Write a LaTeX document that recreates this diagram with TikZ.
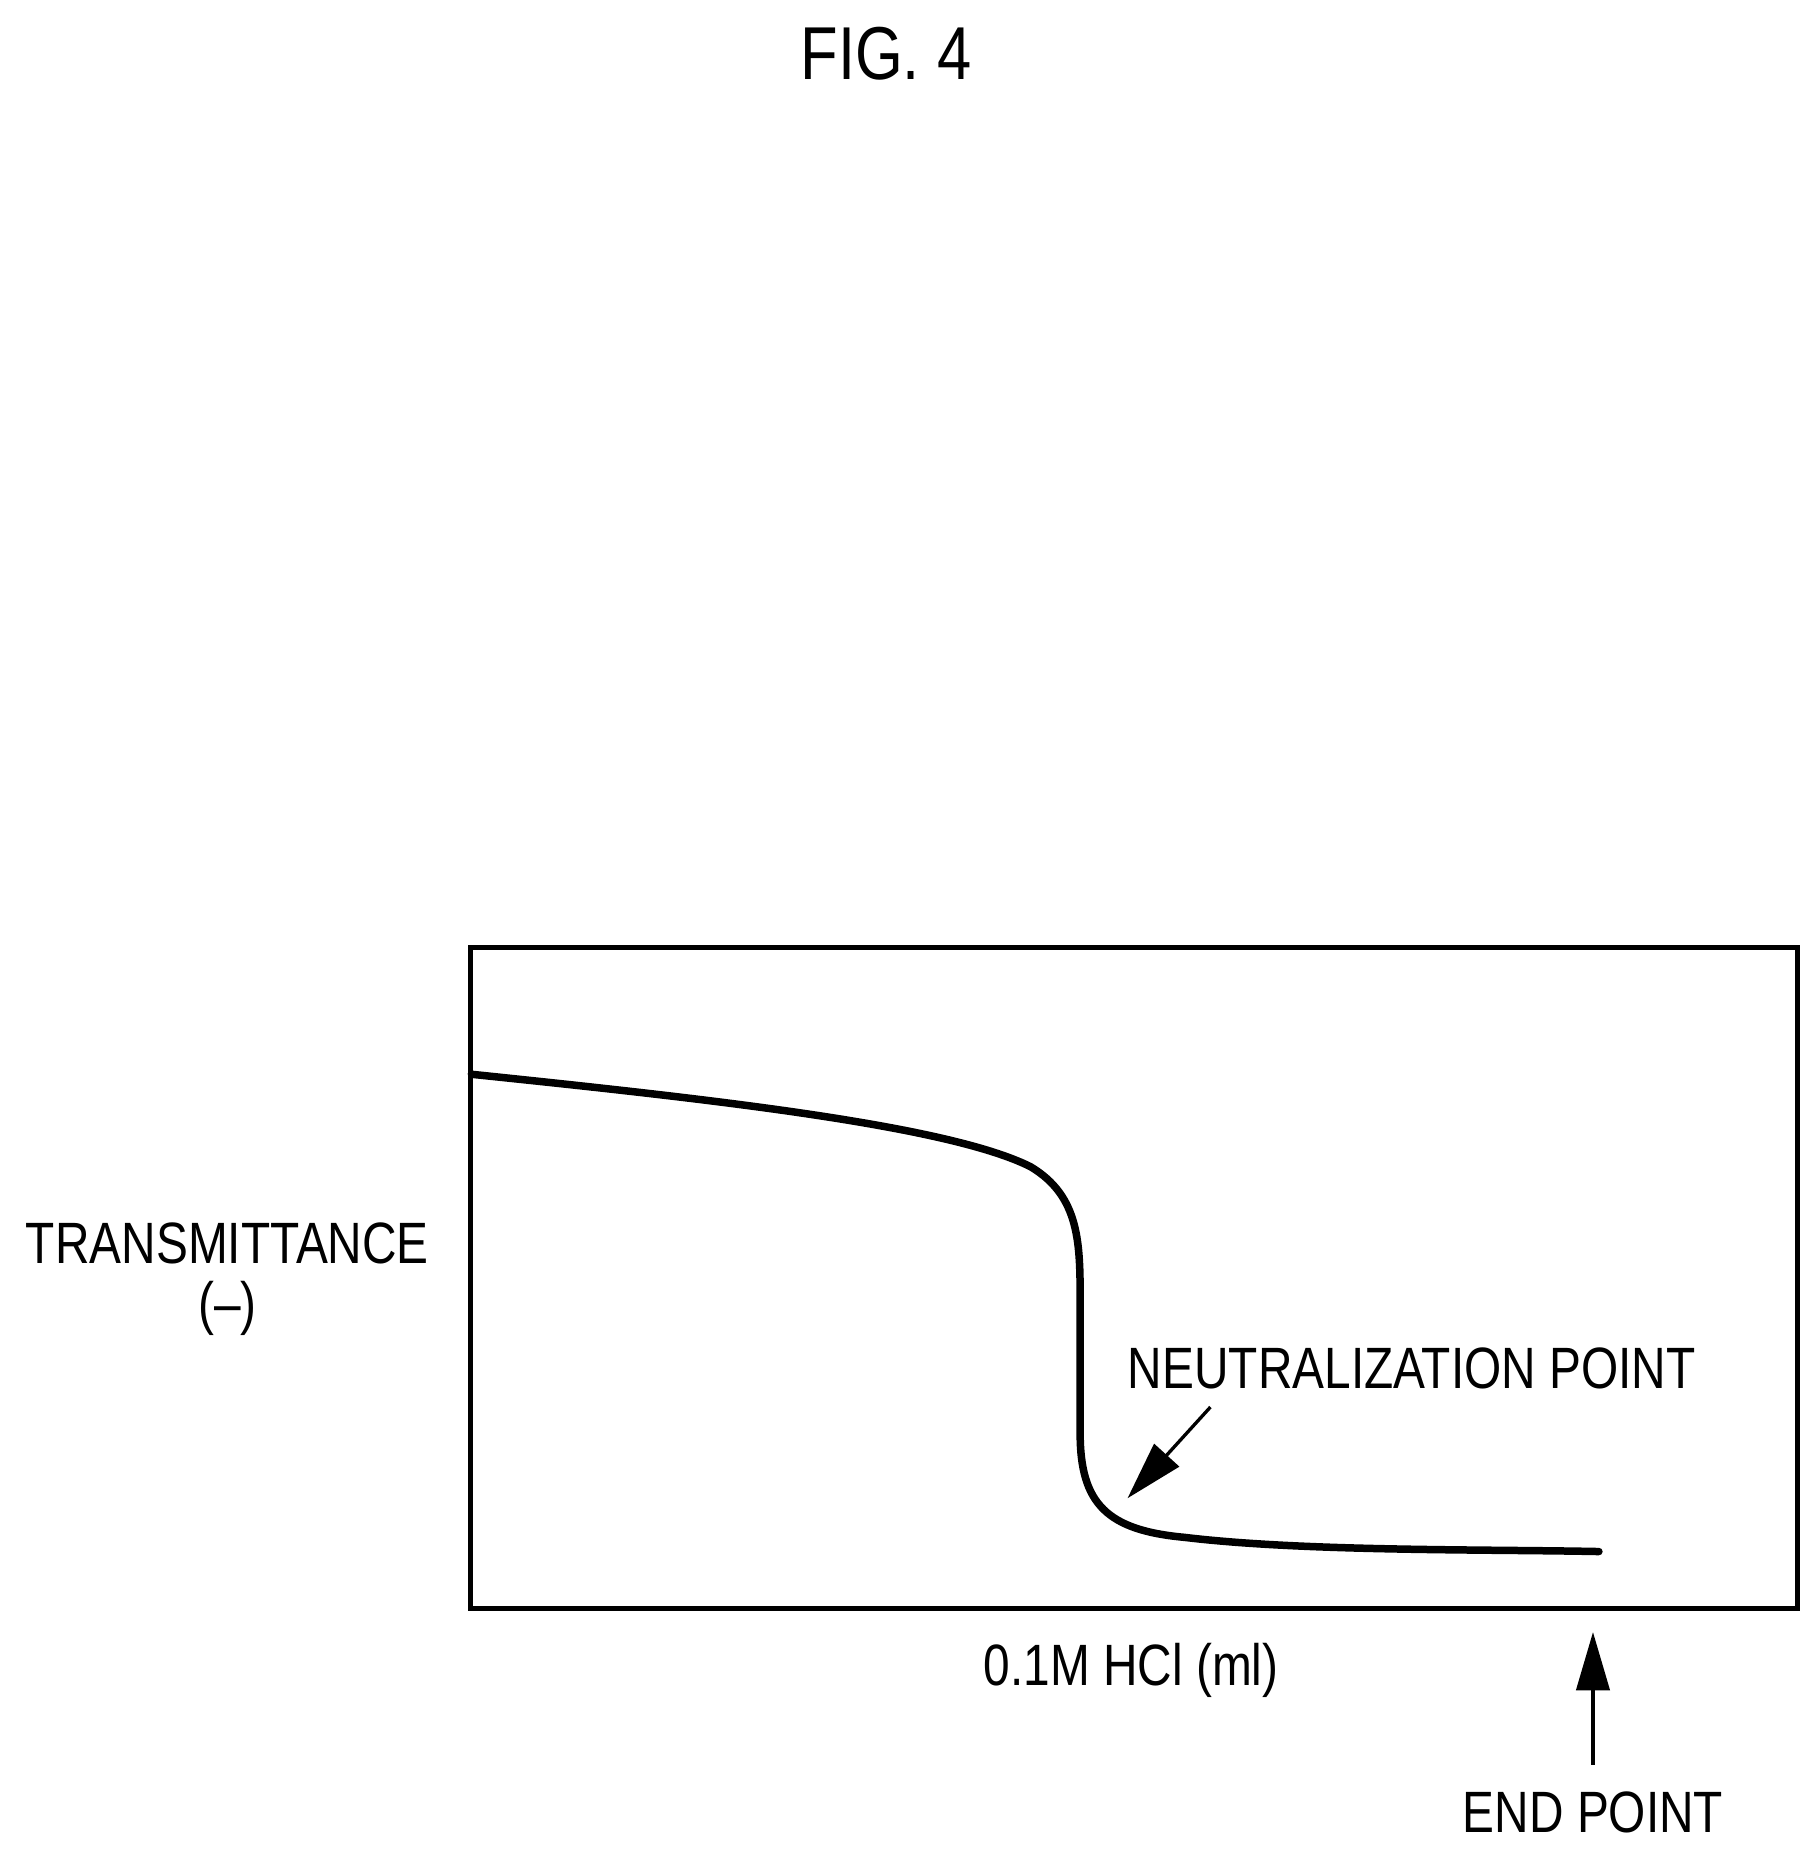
\documentclass[tikz,border=0pt]{standalone}
\usepackage{fontspec}
\setmainfont[FakeStretch=0.82]{Liberation Sans}
\usetikzlibrary{arrows.meta}
\begin{document}
\begin{tikzpicture}[x=0.01cm,y=-0.01cm,
  lbl/.style={font=\fontsize{14pt}{16pt}\selectfont,inner sep=0},
  arr/.style={-{Triangle[length=14pt,width=8pt]},line width=0.8pt}]
\useasboundingbox (0,0) rectangle (1530,1562);
\node[inner sep=0,font=\fontsize{18pt}{20pt}\selectfont] (title) at (748,45) {FIG. 4};
\draw[line width=1.2pt] (397,800) rectangle (1518,1358);
\draw[line width=1.8pt,line cap=round] (398,907) .. controls (600,928) and (800,950) .. (870,985)
  .. controls (912,1010) and (912,1050) .. (912,1100) -- (912,1210)
  .. controls (912,1270) and (935,1292) .. (1000,1298)
  .. controls (1100,1310) and (1250,1308) .. (1350,1310);
\node[lbl] (ty) at (192,1050) {TRANSMITTANCE};
\node[lbl] (tu) at (192,1105) {(--)};
\node[lbl] (np) at (1192,1155) {NEUTRALIZATION POINT};
\coordinate (nps) at (1022,1188);
\coordinate (npe) at (952,1265);
\draw[arr] (nps) -- (npe);
\node[lbl] (xl) at (955,1410) {0.1M HCl (ml)};
\node[lbl] (ep) at (1345,1530) {END POINT};
\coordinate (eps) at (1345,1490);
\coordinate (epe) at (1345,1378);
\draw[arr] (eps) -- (epe);
\end{tikzpicture}
\end{document}
